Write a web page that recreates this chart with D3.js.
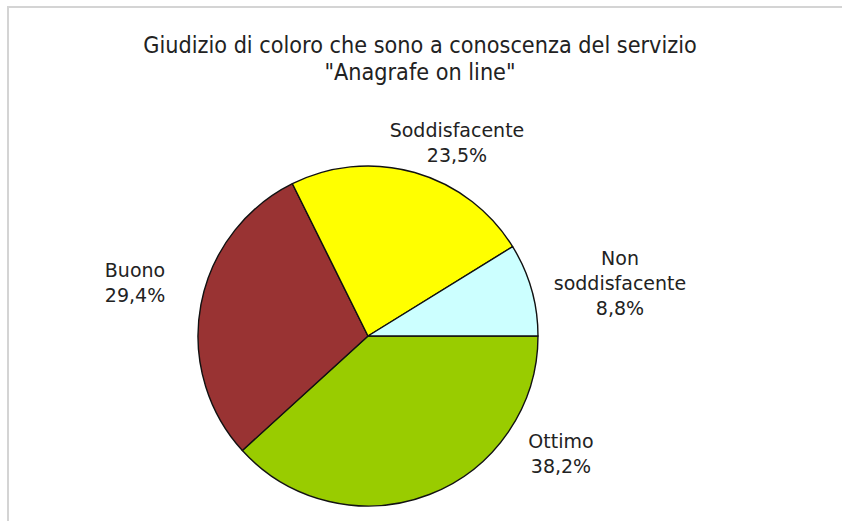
<!DOCTYPE html>
<html><head><meta charset="utf-8">
<script src="https://cdn.jsdelivr.net/npm/d3@7"></script>
<style>body{margin:0;background:#fff}svg{display:block}</style>
</head><body>
<script>
const categories = ["Ottimo", "Buono", "Soddisfacente", "Non soddisfacente"];
const values = [38.2, 29.4, 23.5, 8.8];
const valueLabels = ["38,2%", "29,4%", "23,5%", "8,8%"];
const labelLines = [["Ottimo"], ["Buono"], ["Soddisfacente"], ["Non", "soddisfacente"]];
const colors = ["#99cc00", "#993333", "#ffff00", "#ccffff"];
const titleLines = ["Giudizio di coloro che sono a conoscenza del servizio", "\"Anagrafe on line\""];

const W = 842, H = 521;
const svg = d3.select("body").append("svg").attr("width", W).attr("height", H);

// chart frame
svg.append("path").attr("d", `M8,${H + 5}V7H${W + 5}`)
  .attr("fill", "none").attr("stroke", "#d4d4d4").attr("stroke-width", 2);

// title
const title = svg.append("text").attr("text-anchor", "middle")
  .attr("font-family", "'DejaVu Sans Condensed', 'DejaVu Sans', sans-serif")
  .attr("font-size", 23.2).attr("fill", "#222");
titleLines.forEach((t, i) => title.append("tspan").attr("x", 420).attr("y", 53 + i * 27).text(t));

const cx = 368, cy = 336, R = 170;
const pie = d3.pie().sort(null).startAngle(Math.PI / 2).endAngle(Math.PI / 2 + 2 * Math.PI);
const arcs = pie(values);
const arc = d3.arc().innerRadius(0).outerRadius(R);
const g = svg.append("g").attr("transform", `translate(${cx},${cy})`);
g.selectAll("path").data(arcs).join("path")
  .attr("d", arc).attr("fill", (d, i) => colors[i])
  .attr("stroke", "#111").attr("stroke-width", 1.4).attr("stroke-linejoin", "round");

// label block centres relative to the pie centre (layout, as in the original)
const labelCentres = [[193, 118], [-233, -53], [89, -193], [252, -53]];
const lineH = 25;
arcs.forEach((d, i) => {
  const [lx, ly] = labelCentres[i];
  const lines = labelLines[i].concat([valueLabels[i]]);
  const t = g.append("text").attr("text-anchor", "middle")
    .attr("font-family", "'DejaVu Sans', sans-serif")
    .attr("font-size", 19).attr("fill", "#222");
  const y0 = ly - (lines.length - 1) * lineH / 2;
  lines.forEach((s, k) => t.append("tspan").attr("x", lx).attr("y", y0 + k * lineH)
    .attr("dy", "0.35em").text(s));
});
</script>
</body></html>
